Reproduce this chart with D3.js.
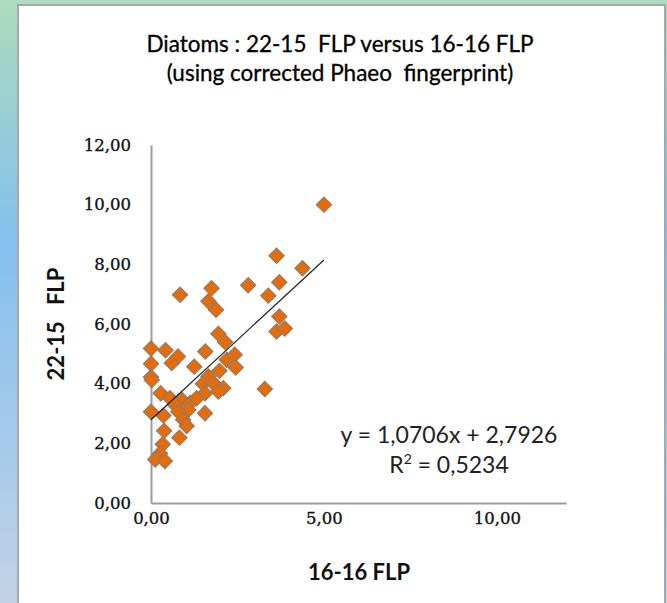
<!DOCTYPE html>
<html>
<head>
	<meta charset="utf-8">
	<title>Diatoms</title>
	<style>
		body { margin: 0; }
		svg { display: block; }
	</style>
</head>
<body>
	<svg id="container" height="603" width="667"></svg>
</body>
<script src="https://d3js.org/d3.v7.min.js"></script>
<script>
	// 16-16 FLP (x) and 22-15 FLP (y)
	let flp1616 = [5.00, 3.63, 4.38, 2.81, 3.71, 3.39, 0.84, 1.75, 1.66, 1.88,
		3.71, 3.63, 3.87, 1.95, 2.14, 0.00, 0.42, 0.78, 0.60, 0.00,
		0.00, 0.02, 1.57, 1.25, 2.19, 2.42, 2.45, 1.98, 1.66, 1.50,
		1.80, 2.09, 1.56, 1.95, 3.29, 0.28, 0.55, 0.89, 0.69, 1.13,
		1.32, 1.08, 0.00, 0.36, 0.79, 1.56, 0.93, 1.03, 0.38, 0.82,
		0.34, 0.26, 0.12, 0.40]
	let flp2215 = [10.00, 8.29, 7.87, 7.30, 7.40, 6.95, 6.98, 7.20, 6.76, 6.48,
		6.25, 5.75, 5.85, 5.67, 5.40, 5.18, 5.12, 4.91, 4.69, 4.67,
		4.22, 4.12, 5.08, 4.57, 4.80, 4.97, 4.54, 4.43, 4.24, 4.00,
		4.02, 3.85, 3.68, 3.74, 3.82, 3.68, 3.51, 3.46, 3.29, 3.35,
		3.51, 3.12, 3.06, 2.93, 3.06, 3.01, 2.79, 2.58, 2.42, 2.19,
		1.97, 1.66, 1.46, 1.41]
	let xTicks = [0, 5, 10]
	let yTicks = [0, 2, 4, 6, 8, 10, 12]
	let slope = 1.0706
	let intercept = 2.7926
	let r2 = "0,5234"

	let svg = d3.select("#container")
	let comma = d => d3.format(".2f")(d).replace(".", ",")

	// page background strip
	let grad = svg.append("defs").append("linearGradient")
		.attr("id", "bg").attr("x1", 0).attr("y1", 0).attr("x2", 0).attr("y2", 1)
	grad.append("stop").attr("offset", "0%").attr("stop-color", "#acdcbc")
	grad.append("stop").attr("offset", "40%").attr("stop-color", "#84c0ef")
	grad.append("stop").attr("offset", "100%").attr("stop-color", "#c2d2e6")
	svg.append("rect").attr("width", 667).attr("height", 603).attr("fill", "url(#bg)")
	svg.append("rect").attr("width", 667).attr("height", 5).attr("fill", "#afdcc0")

	svg.append("rect")
		.attr("x", 18).attr("y", 5)
		.attr("width", 647).attr("height", 620)
		.attr("fill", "white")
		.attr("stroke", "#a8a8a8")
		.attr("stroke-width", 2)

	let x = d3.scaleLinear().domain([0, 12]).range([151, 566])
	let y = d3.scaleLinear().domain([0, 12]).range([503, 145])

	// titles
	let title = svg.append("text")
		.attr("text-anchor", "middle")
		.attr("font-family", "Lato, 'Open Sans', sans-serif")
		.attr("font-size", 22.5)
		.attr("fill", "#000")
		.attr("stroke", "#000")
		.attr("stroke-width", 0.3)
		.attr("xml:space", "preserve")
	title.append("tspan").attr("x", 340).attr("y", 52).text("Diatoms : 22-15  FLP versus 16-16 FLP")
	title.append("tspan").attr("x", 340).attr("y", 81).text("(using corrected Phaeo  fingerprint)")

	// axes
	let xAxis = svg.append("g")
		.attr("transform", `translate(0,${y(0)})`)
		.call(d3.axisBottom(x).tickValues(xTicks).tickSize(0).tickPadding(9).tickFormat(comma))
	let yAxis = svg.append("g")
		.attr("transform", `translate(${x(0)},0)`)
		.call(d3.axisLeft(y).tickValues(yTicks).tickSize(0).tickPadding(20).tickFormat(comma))

	svg.selectAll(".domain").attr("stroke", "#9c9c9c").attr("stroke-width", 2)
	svg.selectAll(".tick text")
		.attr("font-family", "'DejaVu Serif', serif")
		.attr("font-size", 16.5)
		.attr("fill", "#111")
		.attr("stroke", "#111")
		.attr("stroke-width", 0.35)

	svg.append("text")
		.attr("transform", `translate(64,${(y(0) + y(12)) / 2}) rotate(-90)`)
		.attr("text-anchor", "middle")
		.attr("font-family", "Lato, sans-serif")
		.attr("font-weight", "bold")
		.attr("font-size", 22)
		.attr("fill", "#111")
		.attr("xml:space", "preserve")
		.text("22-15   FLP")

	svg.append("text")
		.attr("x", 359).attr("y", 580)
		.attr("text-anchor", "middle")
		.attr("font-family", "Lato, sans-serif")
		.attr("font-weight", "bold")
		.attr("font-size", 22)
		.attr("fill", "#111")
		.text("16-16 FLP")

	// points
	let points = d3.zip(flp1616, flp2215)
	let diamond = d3.symbol(d3.symbolSquare).size(120)
	svg.append("g").selectAll("path")
		.data(points)
		.enter()
		.append("path")
			.attr("d", diamond)
			.attr("transform", d => `translate(${x(d[0])},${y(d[1])}) rotate(45)`)
			.attr("fill", "#e46c0a")
			.attr("stroke", "#8c7c70")
			.attr("stroke-width", 1)

	// linear trendline
	let xMax = d3.max(flp1616)
	svg.append("line")
		.attr("x1", x(0)).attr("y1", y(intercept))
		.attr("x2", x(xMax)).attr("y2", y(intercept + slope * xMax))
		.attr("stroke", "#222")
		.attr("stroke-width", 1.2)

	let eq = svg.append("text")
		.attr("text-anchor", "middle")
		.attr("font-family", "Lato, sans-serif")
		.attr("font-size", 23)
		.attr("fill", "#222")
	eq.append("tspan").attr("x", 449).attr("y", 443)
		.text(`y = ${String(slope).replace(".", ",")}x + ${String(intercept).replace(".", ",")}`)
	let r = eq.append("tspan").attr("x", 449).attr("y", 473)
	r.append("tspan").text("R")
	r.append("tspan").attr("font-size", 14).attr("dy", -9).text("2")
	r.append("tspan").attr("dy", 9).text(" = " + r2)
</script>
</html>
